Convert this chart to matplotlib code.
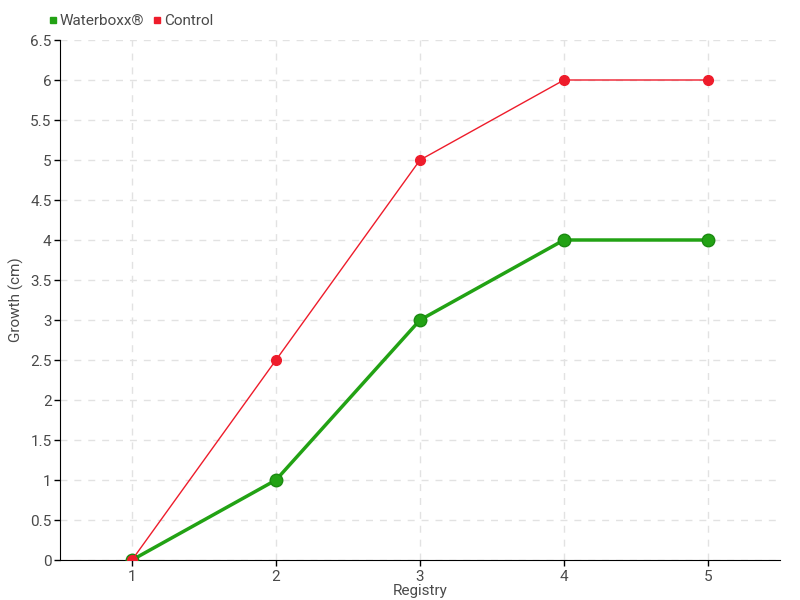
import matplotlib.pyplot as plt
from matplotlib.lines import Line2D

registry = [1, 2, 3, 4, 5]
waterboxx = [0, 1, 3, 4, 4]
control = [0, 2.5, 5, 6, 6]
y_ticks = [0, 0.5, 1, 1.5, 2, 2.5, 3, 3.5, 4, 4.5, 5, 5.5, 6, 6.5]

green = "#22a214"
red = "#ee1c2b"
text_col = "#4a4a4a"

plt.rcParams["font.family"] = ["Roboto", "DejaVu Sans"]

fig = plt.figure(figsize=(8, 6), dpi=100)
ax = fig.add_axes([60 / 800, 40 / 600, 720 / 800, 520 / 600])

ax.plot(registry, waterboxx, color=green, lw=2.5, marker="o", ms=9,
        markeredgecolor="#1a8a10", markeredgewidth=1, zorder=3)
ax.plot(registry, control, color=red, lw=1, marker="o", ms=7,
        markeredgecolor=red, zorder=4)

ax.set_xlim(0.5, 5.5)
ax.set_ylim(0, 6.5)
ax.set_xticks(registry)
ax.set_yticks(y_ticks)
ax.set_yticklabels([f"{v:g}" for v in y_ticks])
ax.grid(True, color="#e2e2e2", linestyle=(0, (5, 5)), lw=1)
ax.set_axisbelow(True)

for s in ["top", "right"]:
    ax.spines[s].set_visible(False)
ax.spines["left"].set_color("black")
ax.spines["bottom"].set_color("black")
ax.tick_params(axis="both", colors=text_col, labelsize=11, length=4, width=1)
ax.tick_params(axis="y", color="black", pad=2)
ax.tick_params(axis="x", color="black")

ax.set_xlabel("Registry", color=text_col, fontsize=11, labelpad=0)
ax.set_ylabel("Growth (cm)", color=text_col, fontsize=11)
ax.yaxis.set_label_coords(-36 / 720, 0.5)

handles = [
    Line2D([], [], color=green, marker="s", ls="none", ms=5),
    Line2D([], [], color=red, marker="s", ls="none", ms=5),
]
fig.legend(handles, ["Waterboxx®", "Control"], loc="upper left",
           bbox_to_anchor=(43 / 800, 1 - 8 / 600), ncol=2, frameon=False,
           fontsize=11, handlelength=0.5, handletextpad=0.2,
           columnspacing=0.6, labelcolor=text_col, borderaxespad=0)

fig.savefig("out.png", dpi=100)
